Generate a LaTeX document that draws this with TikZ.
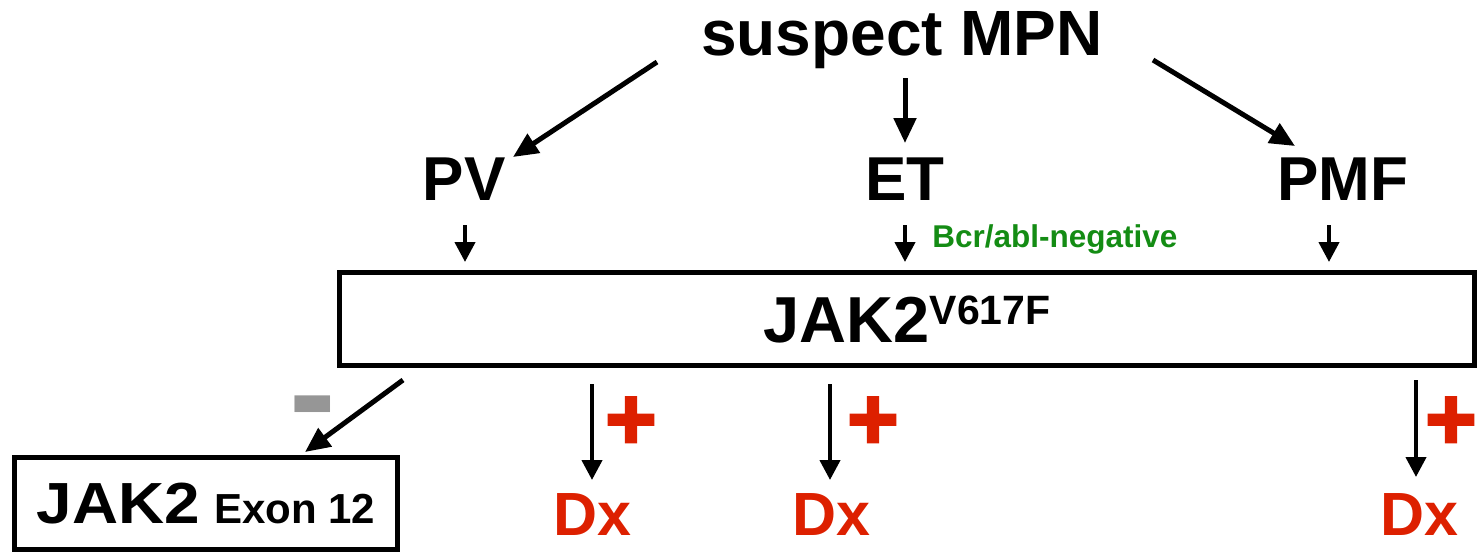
\documentclass[tikz,border=0pt]{standalone}
\usepackage{fontspec}
\setmainfont{Liberation Sans}
\newfontfamily\plusfont[FakeBold=3]{Liberation Sans Bold}
\usetikzlibrary{arrows.meta}
\definecolor{dxred}{RGB}{221,32,0}
\definecolor{okgreen}{RGB}{20,140,20}
\definecolor{minusgray}{RGB}{150,150,150}
\tikzset{
  big/.style={font=\bfseries\fontsize{31}{36}\selectfont, inner sep=0pt, anchor=base},
  bigarrow/.style={line width=2.5pt, -{Triangle[length=12.5pt,width=11pt]}},
  smallarrow/.style={line width=2.1pt, -{Triangle[length=10pt,width=10pt]}},
  boxstyle/.style={draw, line width=2.5pt, inner sep=0pt},
  dxlabel/.style={font=\bfseries\fontsize{30.5}{36}\selectfont, text=dxred, inner sep=0pt, anchor=base},
  plusmark/.style={font=\plusfont\fontsize{44}{50}\selectfont, text=dxred, inner sep=0pt, anchor=base},
}
\begin{document}
\begin{tikzpicture}[x=0.5pt,y=-0.5pt]
\useasboundingbox (0,0) rectangle (1478,554);
% labels
\node[big, font=\bfseries\fontsize{32}{38}\selectfont] (mpn) at (902,55) {suspect MPN};
\node[big] (pv) at (464,200) {PV};
\node[big] (et) at (905,200) {ET};
\node[big] (pmf) at (1343,200) {PMF};
\node[font=\bfseries\fontsize{15.75}{18}\selectfont, text=okgreen, inner sep=0pt, anchor=base west] (bcr) at (932,247) {Bcr/abl-negative};
% main box
\node[boxstyle, minimum width=567.5pt, minimum height=46.5pt, font=\bfseries\fontsize{32.5}{38}\selectfont] (jak) at (907,319)
  {JAK2\raisebox{9pt}{\fontsize{20.5}{24}\selectfont V617F}};
% exon box
\node[boxstyle, minimum width=191.5pt, minimum height=46pt] (exon) at (206,503.5)
  {\bfseries\scalebox{1.1}[1]{\fontsize{29}{34}\selectfont JAK2}\hspace{7pt}{\fontsize{21}{25}\selectfont Exon 12}};
% Dx labels
\node[dxlabel] (dx1) at (592,535) {Dx};
\node[dxlabel] (dx2) at (831,535) {Dx};
\node[dxlabel] (dx3) at (1419,535) {Dx};
% plus and minus marks
\node[plusmark] (p1) at (631,449) {+};
\node[plusmark] (p2) at (873,449) {+};
\node[plusmark] (p3) at (1451,449) {+};
\node[font=\bfseries\fontsize{70}{80}\selectfont, text=minusgray, inner sep=0pt, anchor=base] (minus) at (313,440) {-};
% arrow end points
\coordinate (mpnL) at (657,62);
\coordinate (mpnC) at (905,78);
\coordinate (mpnR) at (1153,60);
\coordinate (pvIn) at (513,157);
\coordinate (etIn) at (905,143);
\coordinate (pmfIn) at (1295,146);
\coordinate (pvOut) at (465,225);
\coordinate (etOut) at (905,225);
\coordinate (pmfOut) at (1329,225);
\coordinate (jakPV) at (465,262);
\coordinate (jakET) at (905,262);
\coordinate (jakPMF) at (1329,262);
\coordinate (jakNeg) at (403,380);
\coordinate (exonIn) at (305,452);
\coordinate (jakD1) at (592,384);
\coordinate (jakD2) at (830,384);
\coordinate (jakD3) at (1416,380);
\coordinate (dx1In) at (592,480);
\coordinate (dx2In) at (830,480);
\coordinate (dx3In) at (1416,477);
% connectors
\draw[bigarrow] (mpnL) -- (pvIn);
\draw[bigarrow] (mpnC) -- (etIn);
\draw[bigarrow] (mpnR) -- (pmfIn);
\draw[smallarrow] (pvOut) -- (jakPV);
\draw[smallarrow] (etOut) -- (jakET);
\draw[smallarrow] (pmfOut) -- (jakPMF);
\draw[bigarrow] (jakNeg) -- (exonIn);
\draw[smallarrow] (jakD1) -- (dx1In);
\draw[smallarrow] (jakD2) -- (dx2In);
\draw[smallarrow] (jakD3) -- (dx3In);
\end{tikzpicture}
\end{document}
